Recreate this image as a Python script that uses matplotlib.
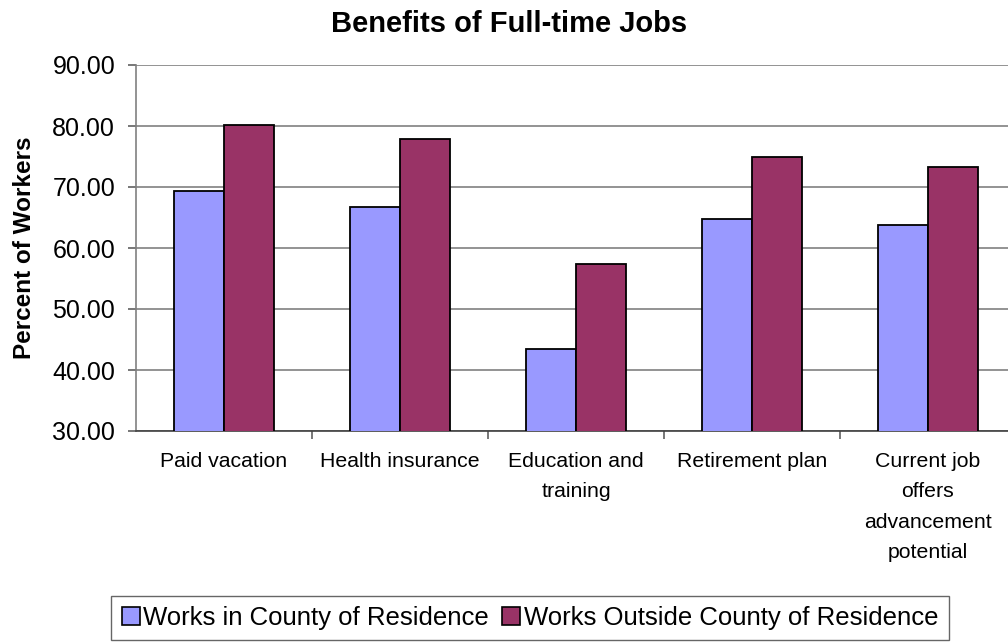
import matplotlib.pyplot as plt
import numpy as np
from matplotlib.patches import Patch

plt.rcParams['font.family'] = ['Liberation Sans', 'DejaVu Sans']

# --- Données ---
categories = ["Paid vacation", "Health insurance", "Education and\ntraining",
              "Retirement plan", "Current job\noffers\nadvancement\npotential"]
in_county = [69.3, 66.8, 43.5, 64.8, 63.8]
outside_county = [80.2, 77.9, 57.3, 75.0, 73.3]
series_names = ["Works in County of Residence", "Works Outside County of Residence"]
yticks = [30, 40, 50, 60, 70, 80, 90]

col_in = '#9999FF'
col_out = '#993366'

fig = plt.figure(figsize=(10.08, 6.43), dpi=100)
ax = fig.add_axes([136/1008, 1 - 431/643, 880/1008, 366/643])

x = np.arange(len(categories))
w = 0.284
ax.bar(x - w/2, in_county, w, bottom=0, color=col_in, edgecolor='black', linewidth=1.3, zorder=3)
ax.bar(x + w/2, outside_county, w, bottom=0, color=col_out, edgecolor='black', linewidth=1.3, zorder=3)

ax.set_xlim(-0.5, len(categories) - 0.5)
ax.set_ylim(30, 90)
ax.set_yticks(yticks)
ax.set_yticklabels([f"{v:.2f}" for v in yticks], fontsize=18)
ax.yaxis.grid(True, color='#808080', linewidth=1.2, zorder=0)

# graduations de l'axe x entre les catégories
ax.set_xticks(x)
ax.set_xticklabels(categories, fontsize=15.3, linespacing=1.76, va='top')
ax.tick_params(axis='x', length=0, pad=15)
ax.set_xticks(np.arange(0.5, len(categories) - 0.5, 1), minor=True)
ax.tick_params(axis='x', which='minor', length=6, width=1.2, color='#606060')
ax.tick_params(axis='y', length=6, width=1.2, color='#606060', pad=9)

for side in ['top', 'right']:
    ax.spines[side].set_visible(False)
ax.spines['left'].set_color('#808080')
ax.spines['left'].set_linewidth(1.2)
ax.spines['bottom'].set_color('#404040')
ax.spines['bottom'].set_linewidth(1.2)

ax.set_ylabel("Percent of Workers", fontsize=17.5, fontweight='bold', labelpad=12)
fig.text(0.505, 1 - 24/643, "Benefits of Full-time Jobs", ha='center', va='center',
         fontsize=21, fontweight='bold')

# --- Légende ---
handles = [Patch(facecolor=col_in, edgecolor='black', linewidth=1.2, label=series_names[0]),
           Patch(facecolor=col_out, edgecolor='black', linewidth=1.2, label=series_names[1])]
leg = fig.legend(handles=handles, loc='center', bbox_to_anchor=(530/1008, 1 - 618/643),
                 ncol=2, fontsize=18.5, frameon=True, fancybox=False, handlelength=0.7,
                 handleheight=0.7, handletextpad=0.15, columnspacing=0.5, borderpad=0.4)
leg.get_frame().set_edgecolor('#404040')
leg.get_frame().set_linewidth(1.0)

fig.savefig("out.png", dpi=100)
